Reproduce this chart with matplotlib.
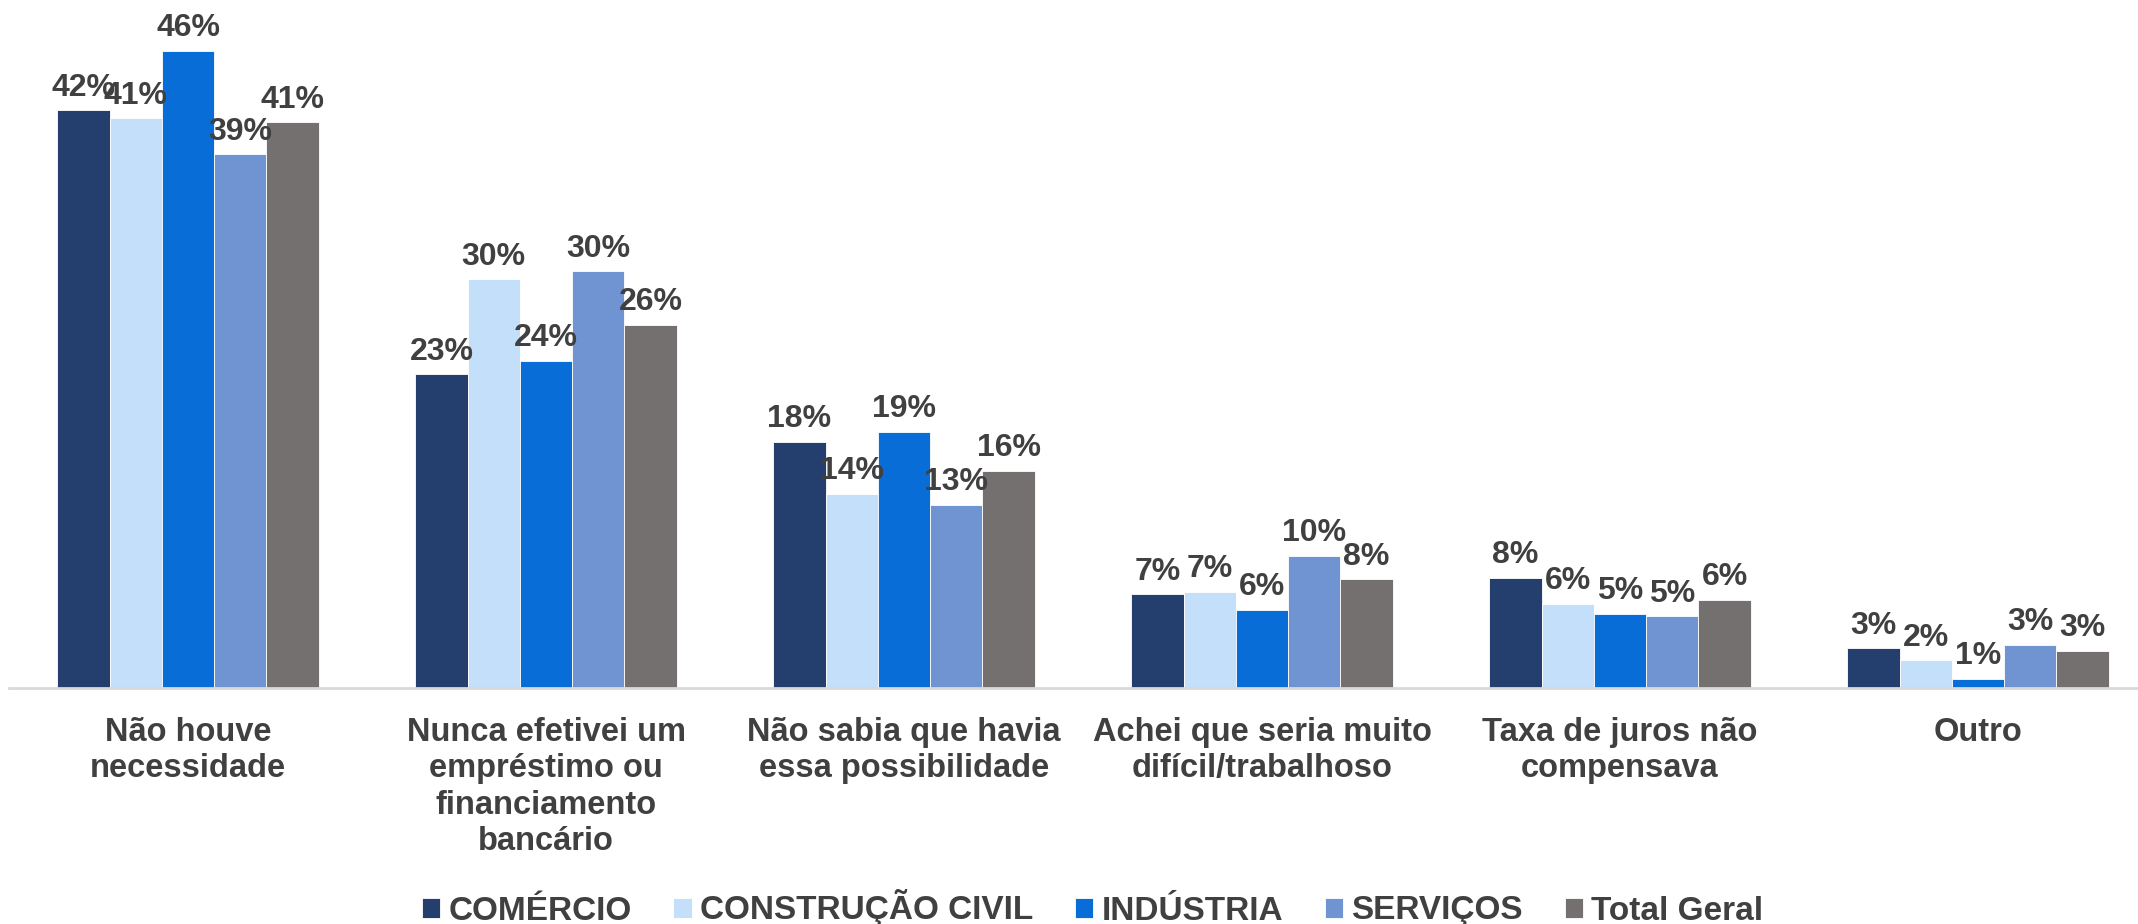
import matplotlib
matplotlib.use("Agg")
import matplotlib.pyplot as plt
import numpy as np

plt.rcParams['font.family'] = ['Liberation Sans', 'DejaVu Sans']

categories = ["Não houve\nnecessidade",
              "Nunca efetivei um\nempréstimo ou\nfinanciamento\nbancário",
              "Não sabia que havia\nessa possibilidade",
              "Achei que seria muito\ndifícil/trabalhoso",
              "Taxa de juros não\ncompensava",
              "Outro"]
series_names = ["COMÉRCIO", "CONSTRUÇÃO CIVIL", "INDÚSTRIA", "SERVIÇOS", "Total Geral"]
comercio = [42.0, 22.8, 17.9, 6.8, 8.0, 2.9]
construcao = [41.4, 29.7, 14.1, 7.0, 6.1, 2.0]
industria = [46.3, 23.8, 18.6, 5.7, 5.4, 0.65]
servicos = [38.8, 30.3, 13.3, 9.6, 5.2, 3.15]
total = [41.1, 26.4, 15.8, 7.9, 6.4, 2.7]
series = [comercio, construcao, industria, servicos, total]
colors = ["#243E6E", "#C4DFFA", "#086DD7", "#7094D1", "#747070"]

fig = plt.figure(figsize=(21.38, 9.24), dpi=100)
ax = fig.add_axes([9 / 2138, 1 - 688 / 924, 2148 / 2138, 688 / 924])

x = np.arange(len(categories))
w = 0.146
text_color = "#404040"
for i, (vals, name, c) in enumerate(zip(series, series_names, colors)):
    pos = x + (i - 2) * w
    ax.bar(pos, vals, width=w, color=c, label=name, edgecolor="white", linewidth=0.6)
    for xp, v in zip(pos, vals):
        ax.text(xp, v + 0.55, f"{v:.0f}%", ha="center", va="bottom",
                fontsize=23, fontweight="bold", color=text_color)

ax.set_xlim(-0.5, len(categories) - 0.5)
ax.set_ylim(0, 50)
ax.set_yticks([])
for s in ["top", "right", "left"]:
    ax.spines[s].set_visible(False)
ax.spines["bottom"].set_color("#D9D9D9")
ax.spines["bottom"].set_linewidth(2)
ax.set_xticks(x)
ax.set_xticklabels(categories, fontsize=23.5, fontweight="bold", color=text_color,
                   linespacing=1.22, va="top")
ax.tick_params(axis="x", length=0, pad=21)

leg = fig.legend(loc="center", bbox_to_anchor=(0.511, 1 - 908 / 924), ncol=5,
                 frameon=False, handlelength=0.55, handleheight=0.55,
                 handletextpad=0.25, columnspacing=1.25,
                 prop={"size": 24, "weight": "bold"})
for t in leg.get_texts():
    t.set_color(text_color)

fig.savefig("out.png", dpi=100)
